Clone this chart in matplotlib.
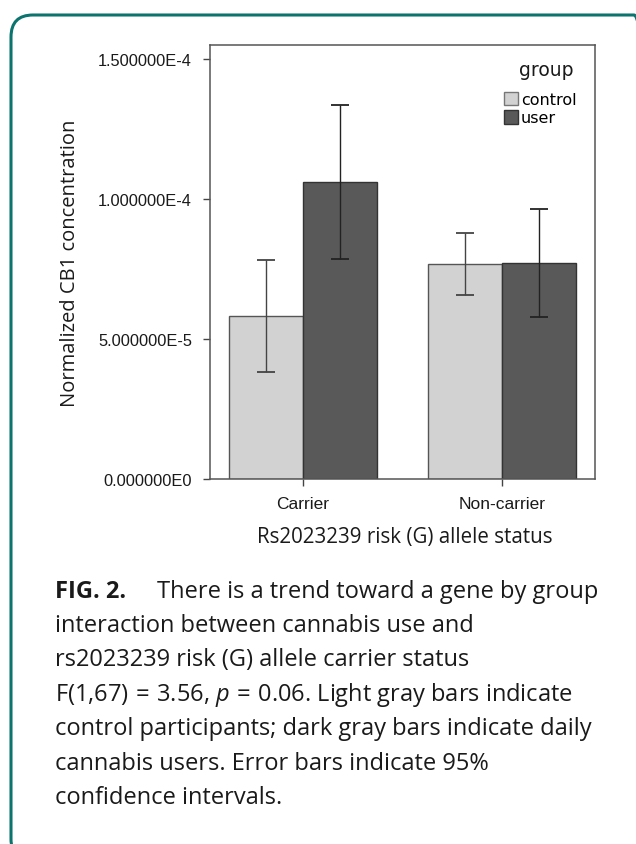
import matplotlib
matplotlib.use("Agg")
import matplotlib.pyplot as plt
from matplotlib.patches import FancyBboxPatch, Patch
from matplotlib.transforms import IdentityTransform
import numpy as np

# values
categories = ["Carrier", "Non-carrier"]
groups = ["control", "user"]
means_control = [5.81e-5, 7.68e-5]
means_user = [1.062e-4, 7.73e-5]
ci_low_control = [3.82e-5, 6.56e-5]
ci_high_control = [7.83e-5, 8.80e-5]
ci_low_user = [7.86e-5, 5.80e-5]
ci_high_user = [1.336e-4, 9.64e-5]
ytick_values = [0, 5e-5, 1e-4, 1.5e-4]
ytick_labels = ["0.000000E0", "5.000000E-5", "1.000000E-4", "1.500000E-4"]

caption_lines = [
    "interaction between cannabis use and",
    "rs2023239 risk (G) allele carrier status",
    r"F(1,67)$\,=\,$3.56, $p\,=\,$0.06. Light gray bars indicate",
    "control participants; dark gray bars indicate daily",
    "cannabis users. Error bars indicate 95%",
    "confidence intervals.",
]

plt.rcParams["mathtext.fontset"] = "custom"
plt.rcParams["mathtext.rm"] = "Open Sans"
plt.rcParams["mathtext.it"] = "Open Sans:italic"

W, H = 636, 845
fig = plt.figure(figsize=(W / 100, H / 100), dpi=100)

# teal rounded frame (only top/left sides fall inside the picture)
frame = FancyBboxPatch((11, -17), 645, 846,
                       boxstyle="round,pad=0,rounding_size=22",
                       transform=IdentityTransform(), fill=False,
                       edgecolor="#0b746e", linewidth=2.2)
fig.patches.append(frame)

ax = fig.add_axes([210 / W, 1 - 480 / H, 385 / W, 434 / H])

x = np.arange(len(categories))
bw = 0.372
light = "#d2d2d2"
dark = "#595959"

ax.bar(x - bw / 2, means_control, bw, color=light, edgecolor="#555555", linewidth=1.0, zorder=2)
ax.bar(x + bw / 2, means_user, bw, color=dark, edgecolor="#333333", linewidth=1.0, zorder=2)

err_c = [np.array(means_control) - np.array(ci_low_control),
         np.array(ci_high_control) - np.array(means_control)]
err_u = [np.array(means_user) - np.array(ci_low_user),
         np.array(ci_high_user) - np.array(means_user)]
ax.errorbar(x - bw / 2, means_control, yerr=err_c, fmt="none", ecolor="#444444",
            elinewidth=1.0, capsize=6.5, capthick=1.3, zorder=3)
ax.errorbar(x + bw / 2, means_user, yerr=err_u, fmt="none", ecolor="#222222",
            elinewidth=1.0, capsize=6.5, capthick=1.3, zorder=3)

ax.set_xlim(-0.467, 1.467)
ax.set_ylim(0, 1.55e-4)
ax.set_yticks(ytick_values)
ax.set_yticklabels(ytick_labels, fontsize=11.8, family="Liberation Sans", color="#1a1a1a")
ax.set_xticks(x)
ax.set_xticklabels(categories, fontsize=12.5, family="Liberation Sans", color="#1a1a1a")
ax.tick_params(axis="both", direction="out", length=5, width=1.0, color="#444444")
ax.tick_params(axis="y", pad=8)
ax.tick_params(axis="x", pad=7)
for s in ax.spines.values():
    s.set_color("#555555")
    s.set_linewidth(1.1)

ax.set_ylabel("Normalized CB1 concentration", fontsize=14.5, family="Open Sans", color="#1a1a1a")
ax.yaxis.set_label_coords((70 - 210) / 385, 0.5)
ax.yaxis.label.set_va("center")
ax.set_xlabel("Rs2023239 risk (G) allele status", fontsize=14.8, family="Open Sans", color="#1a1a1a")
ax.xaxis.set_label_coords((405 - 210) / 385, 1 - (538 - 46) / 434)
ax.xaxis.label.set_va("center")

handles = [Patch(facecolor=light, edgecolor="#777777", linewidth=1.0),
           Patch(facecolor=dark, edgecolor="#333333", linewidth=1.0)]
ax.legend(handles, groups, loc="upper left",
          bbox_to_anchor=((504 - 210) / 385, 1 - (93 - 46) / 434), frameon=False,
          prop={"family": "DejaVu Sans", "size": 11.5},
          handlelength=0.9, handleheight=0.9, handletextpad=0.15,
          labelspacing=0.2, borderpad=0, borderaxespad=0)
ax.text((573 - 210) / 385, 1 - (71 - 46) / 434, "group", transform=ax.transAxes,
        ha="right", va="center", fontsize=13.5, family="DejaVu Sans", color="#1a1a1a")

# caption
cap_kw = dict(fontsize=17, family="Open Sans", color="#1a1a1a", va="center", ha="left")
fig.text(55 / W, 1 - 592 / H, "FIG. 2.", fontweight="bold", **cap_kw)
fig.text(157 / W, 1 - 592 / H, "There is a trend toward a gene by group", **cap_kw)
for i, line in enumerate(caption_lines):
    fig.text(55 / W, 1 - (626 + 34.4 * i) / H, line, **cap_kw)

fig.savefig("out.png", dpi=100)
